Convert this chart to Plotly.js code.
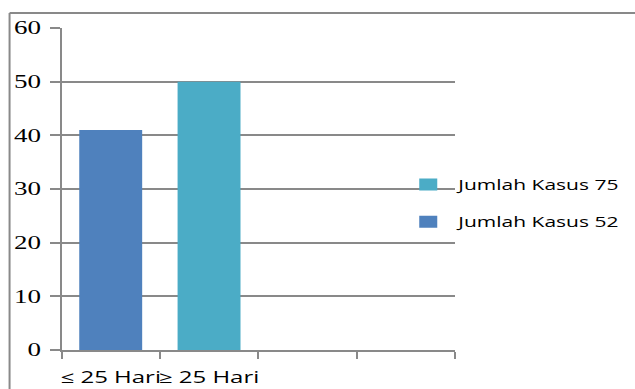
<!DOCTYPE html>
<html>
<head>
<meta charset="utf-8">
<script src="https://cdn.plot.ly/plotly-3.0.1.min.js"></script>
<style>
  html, body { margin: 0; padding: 0; background: #fff; overflow: hidden; }
  #chart { width: 423px; height: 389px; transform: scaleX(1.5012); transform-origin: 0 0; }
</style>
</head>
<body>
<div id="chart"></div>
<script>
// ---- data ----
const categories = ['≤ 25 Hari', '≥ 25 Hari', ' ', '  '];
const seriesNames = ['Jumlah Kasus 52', 'Jumlah Kasus 75'];
const valuesKasus52 = [41, null, null, null];
const valuesKasus75 = [null, 50, null, null];
const yTickValues = [0, 10, 20, 30, 40, 50, 60];

// ---- styling ----
const colors = ['#4F81BD', '#4BACC6'];
const gray = '#898989';
const W = 423, H = 389;
const plotW = 261.8, plotH = 322;
const frameX = (6.7 - 41.3) / plotW;
const frameY = (350 - 13) / plotH;

const traces = [
  { type: 'bar', name: seriesNames[0], x: categories, y: valuesKasus52,
    marker: { color: colors[0] }, width: 0.64, legendgroup: 'g52', legendrank: 2 },
  { type: 'bar', name: seriesNames[1], x: categories, y: valuesKasus75,
    marker: { color: colors[1] }, width: 0.64, legendgroup: 'g75', legendrank: 1 }
];

const layout = {
  width: W, height: H,
  margin: { l: 41.3, r: W - 41.3 - plotW, t: 28, b: 39, pad: 0, autoexpand: false },
  paper_bgcolor: '#fff', plot_bgcolor: '#fff',
  barmode: 'overlay',
  showlegend: true,
  legend: {
    x: 0.856, xanchor: 'left', y: 0.455, yanchor: 'middle',
    traceorder: 'grouped', tracegroupgap: 16,
    font: { family: 'Open Sans', size: 14, color: '#000' },
    bgcolor: 'rgba(0,0,0,0)'
  },
  xaxis: {
    type: 'category', categoryorder: 'array', categoryarray: categories,
    range: [-0.5, 3.5], tickson: 'boundaries', tickangle: 0,
    ticks: 'outside', ticklen: 7, tickwidth: 1.33, tickcolor: gray,
    showline: true, linewidth: 2, linecolor: gray,
    showgrid: false, zeroline: false,
    tickfont: { family: 'Open Sans', size: 16, color: '#000' },
    ticklabelstandoff: 12,
    fixedrange: true
  },
  yaxis: {
    range: [0, 60], tickvals: yTickValues,
    ticks: 'outside', ticklen: 6.67, tickwidth: 2, tickcolor: gray,
    showline: true, linewidth: 1.33, linecolor: gray,
    showgrid: true, gridcolor: gray, gridwidth: 2, zeroline: false,
    tickfont: { family: 'Liberation Serif', size: 18, color: '#000' },
    ticklabelstandoff: 2,
    fixedrange: true
  },
  shapes: [
    { type: 'line', xref: 'paper', yref: 'paper', layer: 'above',
      x0: frameX, x1: 1.7, y0: frameY, y1: frameY,
      line: { color: gray, width: 2 } },
    { type: 'line', xref: 'paper', yref: 'paper', layer: 'above',
      x0: frameX, x1: frameX, y0: frameY, y1: -0.3,
      line: { color: gray, width: 1.33 } }
  ]
};

Plotly.newPlot('chart', traces, layout, { displayModeBar: false, staticPlot: true });
</script>
</body>
</html>
